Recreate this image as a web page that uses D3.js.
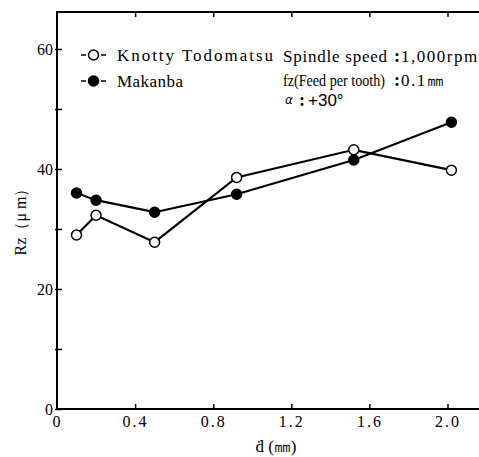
<!DOCTYPE html>
<html>
<head>
<meta charset="utf-8">
<script src="https://cdn.jsdelivr.net/npm/d3@7"></script>
<style>
  body { margin: 0; background: #fff; }
  svg { display: block; }
  text { fill: #000; }
</style>
</head>
<body>
<div id="chart"></div>
<script>
// Rz vs d, two wood species
const dValues = [0.1, 0.2, 0.5, 0.92, 1.52, 2.02];
const knotty = [29.0, 32.3, 27.8, 38.6, 43.2, 39.8];
const makanba = [36.0, 34.8, 32.8, 35.8, 41.5, 47.8];

const seriesNames = ["Knotty Todomatsu", "Makanba"];
const xTicks = [0, 0.4, 0.8, 1.2, 1.6, 2.0];
const yTicks = [0, 10, 20, 30, 40, 50, 60];

const serif = "'Liberation Serif', 'DejaVu Serif', serif";

const drawChart = () => {
  const width = 479;
  const height = 457;
  const left = 57;
  const bottom = 409;
  const top = 12;

  const x = d3.scaleLinear().domain([0, 2]).range([left, 447.5]);
  const y = d3.scaleLinear().domain([0, 60]).range([bottom, 49]);

  const svg = d3.select("#chart")
    .append("svg")
    .attr("width", width)
    .attr("height", height)
    .style("font-family", serif);

  // frame (right side runs off the picture)
  svg.append("path")
     .attr("d", `M${width},${top}H${left}V${bottom}H${width}`)
     .attr("fill", "none")
     .attr("stroke", "#000")
     .attr("stroke-width", 2);

  // y axis
  const yAxis = svg.append("g")
    .attr("transform", `translate(${left},0)`)
    .call(d3.axisLeft(y)
      .tickValues(yTicks)
      .tickSize(-5)
      .tickSizeOuter(0)
      .tickPadding(4)
      .tickFormat((d) => d % 20 === 0 ? d : ""));
  yAxis.select(".domain").remove();
  yAxis.attr("font-family", null);
  yAxis.selectAll("line").attr("stroke-width", 1.5).attr("x1", -2);
  yAxis.selectAll("text").attr("font-size", 16).attr("dy", "0.35em");

  // x axis bottom
  const xAxis = svg.append("g")
    .attr("transform", `translate(0,${bottom})`)
    .call(d3.axisBottom(x)
      .tickValues(xTicks)
      .tickSize(-5)
      .tickSizeOuter(0)
      .tickPadding(7)
      .tickFormat((d) => d === 0 ? "0" : d3.format(".1f")(d)));
  xAxis.select(".domain").remove();
  xAxis.attr("font-family", null);
  xAxis.selectAll("line").attr("stroke-width", 1.5);
  xAxis.selectAll(".tick").filter((d) => d === 0).select("line").remove();
  xAxis.selectAll("text").attr("font-size", 16).attr("letter-spacing", 2);

  // x axis top ticks
  const xTop = svg.append("g")
    .attr("transform", `translate(0,${top})`)
    .call(d3.axisTop(x)
      .tickValues(xTicks.filter((d) => d > 0))
      .tickSize(-5)
      .tickSizeOuter(0)
      .tickFormat(""));
  xTop.select(".domain").remove();
  xTop.selectAll("line").attr("stroke-width", 1.5);

  // axis titles
  svg.append("text")
     .attr("transform", "translate(26,218) rotate(-90)")
     .attr("text-anchor", "middle")
     .attr("font-size", 16)
     .text("Rz（μ m）");

  svg.append("text")
     .attr("x", 276)
     .attr("y", 452)
     .attr("text-anchor", "middle")
     .attr("font-size", 17)
     .text("ḋ (㎜)");

  // series
  const series = [
    { name: seriesNames[0], values: knotty, fill: "#fff", len: 156 },
    { name: seriesNames[1], values: makanba, fill: "#000", len: 66 }
  ];

  const line = d3.line()
    .x((d) => x(d[0]))
    .y((d) => y(d[1]));

  series.forEach((s) => {
    const pts = dValues.map((d, i) => [d, s.values[i]]);
    svg.append("path")
       .datum(pts)
       .attr("d", line)
       .attr("fill", "none")
       .attr("stroke", "#000")
       .attr("stroke-width", 2.2);
    svg.selectAll(null)
       .data(pts)
       .enter()
       .append("circle")
       .attr("cx", (d) => x(d[0]))
       .attr("cy", (d) => y(d[1]))
       .attr("r", 5)
       .attr("fill", s.fill)
       .attr("stroke", "#000")
       .attr("stroke-width", 1.5);
  });

  // legend
  const legend = svg.append("g");
  series.forEach((s, i) => {
    const ly = 55 + i * 26;
    const g = legend.append("g").attr("transform", `translate(0,${ly})`);
    g.append("line").attr("x1", 81).attr("x2", 86).attr("stroke", "#000").attr("stroke-width", 1.5);
    g.append("line").attr("x1", 101).attr("x2", 106).attr("stroke", "#000").attr("stroke-width", 1.5);
    g.append("circle")
     .attr("cx", 93.5)
     .attr("r", 5)
     .attr("fill", s.fill)
     .attr("stroke", "#000")
     .attr("stroke-width", 1.5);
    g.append("text")
     .attr("x", 117)
     .attr("y", 6)
     .attr("font-size", 17)
     .attr("textLength", s.len)
     .attr("lengthAdjust", "spacing")
     .text(s.name);
  });

  // conditions: label, colon and value in one text line
  const notes = [
    { label: "Spindle speed", value: "1,000rpm", y: 62, len: 104, size: 17, adj: "spacing" },
    { label: "fz(Feed per tooth)", value: "0.1㎜", y: 86, len: 102, size: 16.5, adj: "spacingAndGlyphs" }
  ];
  notes.forEach((n) => {
    const t = svg.append("text").attr("y", n.y).attr("font-size", 17);
    t.append("tspan").attr("x", 283).attr("font-size", n.size)
     .attr("textLength", n.len).attr("lengthAdjust", n.adj).text(n.label);
    t.append("tspan").attr("x", 394).attr("font-size", 18)
     .attr("font-weight", "bold").text(":");
    t.append("tspan").attr("x", 401).attr("letter-spacing", 1.5).text(n.value);
  });
  const a = svg.append("text").attr("y", 106).attr("font-size", 17);
  a.append("tspan").attr("x", 285).attr("dy", -2).attr("font-size", 12)
   .style("font-family", "'DejaVu Sans', sans-serif").attr("font-style", "italic").text("α");
  a.append("tspan").attr("x", 299).attr("dy", 2).attr("font-size", 18)
   .attr("font-weight", "bold").text(":");
  a.append("tspan").attr("x", 308)
   .style("font-family", "'Liberation Sans', sans-serif").text("+30°");
};

drawChart();
</script>
</body>
</html>
